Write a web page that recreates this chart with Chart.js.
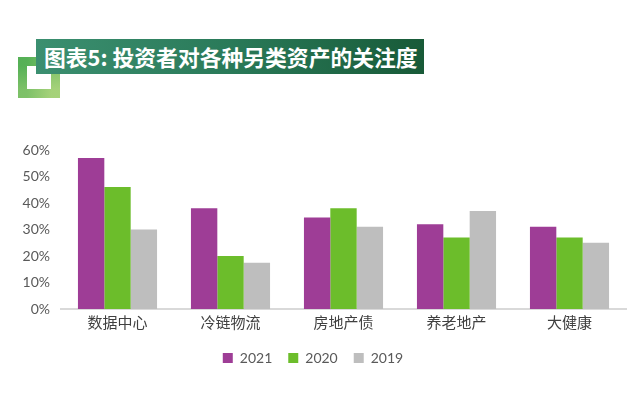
<!DOCTYPE html>
<html>
<head>
<meta charset="utf-8">
<script src="https://cdn.jsdelivr.net/npm/chart.js@4"></script>
<style>
  html, body { margin: 0; padding: 0; background: #fff; }
  #wrap { position: relative; width: 640px; height: 407px; overflow: hidden; }
  #frame {
    position: absolute; left: 18px; top: 57px; width: 42px; height: 41px;
    box-sizing: border-box; border: 9px solid #7cc35a;
    border-image: linear-gradient(135deg, #55b056, #a6d27a) 1;
  }
  #banner {
    position: absolute; left: 36px; top: 39px; width: 388px; height: 35px;
    background: linear-gradient(90deg, #3b8f70, #2a7a59 50%, #185a38);
    color: #fff; font-family: "Noto Sans CJK SC", sans-serif; font-weight: bold;
    font-size: 21.8px; line-height: 35px; padding-left: 8px; box-sizing: border-box;
    white-space: nowrap;
  }
  canvas { position: absolute; left: 0; top: 0; }
</style>
</head>
<body>
<div id="wrap">
  <div id="frame"></div>
  <div id="banner">图表5: 投资者对各种另类资产的关注度</div>
  <canvas id="chart" width="640" height="407"></canvas>
</div>
<script>
// categories and yearly survey shares (%)
const categories = ["数据中心", "冷链物流", "房地产债", "养老地产", "大健康"];
const values2021 = [57, 38, 34.5, 32, 31];
const values2020 = [46, 20, 38, 27, 27];
const values2019 = [30, 17.5, 31, 37, 25];
const seriesNames = ["2021", "2020", "2019"];
const yTicks = [0, 10, 20, 30, 40, 50, 60];

const colors = ["#9e3d96", "#6cbd2b", "#bebebe"];
const latin = "'Lato', 'Noto Sans CJK SC', sans-serif";

const ctx = document.getElementById("chart");
new Chart(ctx, {
    type: "bar",
    data: {
        labels: categories,
        datasets: [values2021, values2020, values2019].map((d, i) => ({
            label: seriesNames[i],
            data: d,
            backgroundColor: colors[i],
            categoryPercentage: 0.7,
            barPercentage: 1.0,
        })),
    },
    options: {
        responsive: false,
        animation: false,
        layout: { padding: { left: 0, right: 14, top: 150, bottom: 32 } },
        plugins: {
            legend: {
                position: "bottom",
                labels: {
                    boxWidth: 10, boxHeight: 10, padding: 16,
                    color: "#595959",
                    font: { family: latin, size: 14 },
                },
            },
            tooltip: { enabled: false },
        },
        scales: {
            x: {
                grid: { display: false, drawTicks: false },
                border: { color: "#d9d9d9", width: 2 },
                ticks: {
                    color: "#404040", padding: 4,
                    font: { family: "'Noto Sans CJK SC', sans-serif", size: 15 },
                },
            },
            y: {
                min: 0, max: 60,
                afterFit: (s) => { s.width = 61; },
                afterBuildTicks: (s) => { s.ticks = yTicks.map(v => ({ value: v })); },
                grid: { display: false, drawTicks: false },
                border: { display: false },
                ticks: {
                    color: "#595959", padding: 11,
                    font: { family: latin, size: 14 },
                    callback: (v) => v + "%",
                },
            },
        },
    },
});
</script>
</body>
</html>
